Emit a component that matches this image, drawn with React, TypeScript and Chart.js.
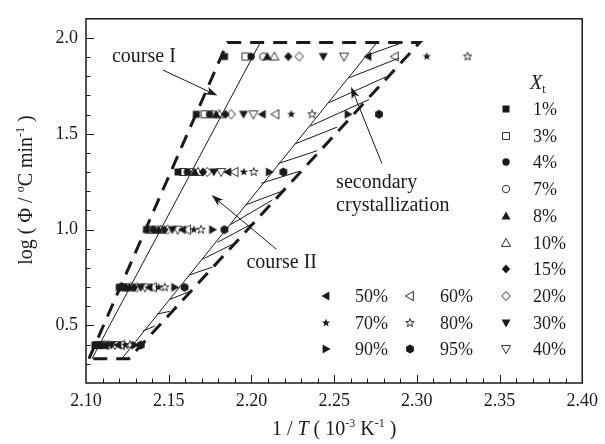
import React, { useEffect, useRef } from 'react';
import { Chart, registerables } from 'chart.js';

Chart.register(...registerables);

// ---- data ----
const ROW_LOG_PHI = [1.903, 1.602, 1.301, 1.0, 0.699, 0.398];

const XT_1 = [2.1837, 2.1667, 2.1556, 2.1366, 2.1201, 2.1054];
const XT_3 = [2.1964, 2.1717, 2.1586, 2.1387, 2.1219, 2.1068];
const XT_4 = [2.1998, 2.1747, 2.1613, 2.1407, 2.1234, 2.108];
const XT_7 = [2.2072, 2.1765, 2.1637, 2.1423, 2.1249, 2.1091];
const XT_8 = [2.2096, 2.1787, 2.1657, 2.1438, 2.1261, 2.1101];
const XT_10 = [2.2139, 2.1807, 2.1677, 2.1452, 2.1273, 2.111];
const XT_15 = [2.2223, 2.1843, 2.1707, 2.1474, 2.1291, 2.1123];
const XT_20 = [2.2289, 2.1878, 2.1733, 2.1493, 2.1307, 2.1136];
const XT_30 = [2.2434, 2.1952, 2.1773, 2.1522, 2.1331, 2.1154];
const XT_40 = [2.256, 2.2012, 2.1817, 2.1554, 2.1357, 2.1175];
const XT_50 = [2.2705, 2.2066, 2.1857, 2.1583, 2.1381, 2.1193];
const XT_60 = [2.2867, 2.2145, 2.1898, 2.1611, 2.1405, 2.1211];
const XT_70 = [2.306, 2.2241, 2.1954, 2.1652, 2.1439, 2.1237];
const XT_80 = [2.3307, 2.2367, 2.2014, 2.1695, 2.1476, 2.1265];
const XT_90 = [null, 2.2584, 2.2108, 2.1765, 2.1536, 2.1295];
const XT_95 = [null, 2.2771, 2.2193, 2.1837, 2.1596, 2.1331];

const SERIES_LABELS = ['1%', '3%', '4%', '7%', '8%', '10%', '15%', '20%', '30%', '40%', '50%', '60%', '70%', '80%', '90%', '95%'];
const SERIES_X = [XT_1, XT_3, XT_4, XT_7, XT_8, XT_10, XT_15, XT_20, XT_30, XT_40, XT_50, XT_60, XT_70, XT_80, XT_90, XT_95];

const X_TICKS = [2.1, 2.15, 2.2, 2.25, 2.3, 2.35, 2.4];
const Y_TICKS = [0.5, 1.0, 1.5, 2.0];

// boundary lines (course I / course II)
const DASH_X = [2.1018, 2.1855, 2.3018, 2.1259, 2.1018];
const DASH_Y = [0.327, 1.977, 1.977, 0.327, 0.327];
const THIN1_X = [2.1036, 2.2054];
const THIN1_Y = [0.327, 1.977];
const THIN2_X = [2.1217, 2.2759];
const THIN2_Y = [0.327, 1.977];

// hatch lines (secondary crystallization)
const HATCH_X0 = [2.2699, 2.259, 2.247, 2.2355, 2.2265, 2.2163, 2.206, 2.1964, 2.1873, 2.1795, 2.1705, 2.1627, 2.1506, 2.1428, 2.1343];
const HATCH_Y0 = [1.91, 1.792, 1.663, 1.54, 1.448, 1.345, 1.242, 1.129, 1.026, 0.934, 0.846, 0.764, 0.636, 0.559, 0.471];
const HATCH_X1 = [2.2916, 2.2892, 2.2813, 2.2711, 2.2518, 2.2398, 2.2289, 2.2187, 2.2127, 2.2018, 2.191, 2.1765, 2.1627, 2.1506, 2.1416];
const HATCH_Y1 = [1.977, 1.895, 1.797, 1.679, 1.535, 1.412, 1.304, 1.201, 1.155, 1.037, 0.934, 0.805, 0.677, 0.574, 0.497];

// ---- styles ----
const INK = '#1a1a1a';
const FONT = '"Liberation Serif", "Times New Roman", Times, serif';
const MARKERS: [string, boolean][] = [
  ['square', true], ['square', false], ['circle', true], ['circle', false],
  ['up', true], ['up', false], ['diamond', true], ['diamond', false],
  ['down', true], ['down', false], ['left', true], ['left', false],
  ['star', true], ['star', false], ['right', true], ['hex', true],
];

function shapePath(ctx: CanvasRenderingContext2D, kind: string, cx: number, cy: number) {
  ctx.beginPath();
  const poly = (pts: number[][]) => {
    ctx.moveTo(cx + pts[0][0], cy + pts[0][1]);
    for (let i = 1; i < pts.length; i++) ctx.lineTo(cx + pts[i][0], cy + pts[i][1]);
    ctx.closePath();
  };
  switch (kind) {
    case 'square': ctx.rect(cx - 3.5, cy - 3.5, 7, 7); break;
    case 'circle': ctx.arc(cx, cy, 3.7, 0, Math.PI * 2); break;
    case 'up': poly([[0, -4.6], [4.5, 3.4], [-4.5, 3.4]]); break;
    case 'down': poly([[0, 4.6], [4.5, -3.4], [-4.5, -3.4]]); break;
    case 'left': poly([[-4.6, 0], [3.4, -4.6], [3.4, 4.6]]); break;
    case 'right': poly([[4.6, 0], [-3.4, -4.6], [-3.4, 4.6]]); break;
    case 'diamond': poly([[0, -4.6], [4.2, 0], [0, 4.6], [-4.2, 0]]); break;
    case 'star': {
      const pts: number[][] = [];
      for (let i = 0; i < 10; i++) {
        const r = i % 2 === 0 ? 4.4 : 1.8;
        const a = -Math.PI / 2 + (i * Math.PI) / 5;
        pts.push([r * Math.cos(a), r * Math.sin(a)]);
      }
      poly(pts);
      break;
    }
    case 'hex': {
      const pts: number[][] = [];
      for (let i = 0; i < 6; i++) {
        const a = -Math.PI / 2 + (i * Math.PI) / 3;
        pts.push([4.5 * Math.cos(a), 4.5 * Math.sin(a)]);
      }
      poly(pts);
      break;
    }
  }
}

function makeMarker(kind: string, filled: boolean): HTMLCanvasElement {
  const c = document.createElement('canvas');
  c.width = 14;
  c.height = 14;
  const ctx = c.getContext('2d')!;
  shapePath(ctx, kind, 7, 7);
  if (filled) {
    ctx.fillStyle = INK;
    ctx.fill();
  } else {
    ctx.strokeStyle = INK;
    ctx.lineWidth = 0.9;
    ctx.stroke();
  }
  return c;
}

type Part = { t: string; it?: boolean; sup?: boolean; sub?: boolean };

function drawRich(ctx: CanvasRenderingContext2D, parts: Part[], x: number, y: number, size: number, align: 'left' | 'center') {
  const fontOf = (p: Part) => `${p.it ? 'italic ' : ''}${p.sup || p.sub ? Math.round(size * 0.62) : size}px ${FONT}`;
  let w = 0;
  for (const p of parts) { ctx.font = fontOf(p); w += ctx.measureText(p.t).width; }
  let cx = align === 'center' ? x - w / 2 : x;
  ctx.textAlign = 'left';
  ctx.textBaseline = 'alphabetic';
  for (const p of parts) {
    ctx.font = fontOf(p);
    const dy = p.sup ? -size * 0.42 : p.sub ? size * 0.22 : 0;
    ctx.fillText(p.t, cx, y + dy);
    cx += ctx.measureText(p.t).width;
  }
}

function arrow(ctx: CanvasRenderingContext2D, x0: number, y0: number, x1: number, y1: number) {
  const ang = Math.atan2(y1 - y0, x1 - x0);
  const L = 12, W = 4;
  const bx = x1 - L * Math.cos(ang), by = y1 - L * Math.sin(ang);
  ctx.beginPath();
  ctx.moveTo(x0, y0);
  ctx.lineTo(bx + 3 * Math.cos(ang), by + 3 * Math.sin(ang));
  ctx.lineWidth = 1;
  ctx.stroke();
  ctx.beginPath();
  ctx.moveTo(x1, y1);
  ctx.lineTo(bx - W * Math.sin(ang), by + W * Math.cos(ang));
  ctx.lineTo(bx + 3 * Math.cos(ang), by + 3 * Math.sin(ang));
  ctx.lineTo(bx + W * Math.sin(ang), by - W * Math.cos(ang));
  ctx.closePath();
  ctx.fill();
}

export default function App() {
  const ref = useRef<HTMLCanvasElement | null>(null);

  useEffect(() => {
    if (!ref.current) return;
    const markerImgs = MARKERS.map(([k, f]) => makeMarker(k, f));

    const pointSets = SERIES_X.map((xs, i) => ({
      type: 'scatter' as const,
      label: SERIES_LABELS[i],
      data: xs
        .map((x, r) => (x == null ? null : { x, y: ROW_LOG_PHI[r] }))
        .filter((p) => p !== null),
      pointStyle: markerImgs[i],
      pointRadius: 4,
      showLine: false,
    }));

    const lineSet = (xs: number[], ys: number[], dashed: boolean) => ({
      type: 'scatter' as const,
      data: xs.map((x, i) => ({ x, y: ys[i] })),
      showLine: true,
      pointRadius: 0,
      borderColor: INK,
      borderWidth: dashed ? 3 : 1,
      borderDash: dashed ? [14, 9] : [],
      borderCapStyle: 'butt' as const,
      tension: 0,
      fill: false,
    });

    const hatchSets = HATCH_X0.map((x0, i) =>
      lineSet([x0, HATCH_X1[i]], [HATCH_Y0[i], HATCH_Y1[i]], false)
    );

    const decor = {
      id: 'decor',
      afterDatasetsDraw(chart: any) {
        const { ctx, chartArea: a } = chart;
        const xs = chart.scales.x, ys = chart.scales.y;
        const X = (v: number) => xs.getPixelForValue(v);
        const Y = (v: number) => ys.getPixelForValue(v);
        ctx.save();
        ctx.strokeStyle = INK;
        ctx.fillStyle = INK;

        // frame
        ctx.lineWidth = 1.5;
        ctx.strokeRect(a.left, a.top, a.right - a.left, a.bottom - a.top);

        // inward ticks
        ctx.lineWidth = 1;
        ctx.beginPath();
        for (let i = 1; i < 30; i++) {
          const px = Math.round(X(2.1 + i * 0.01)) + 0.5;
          const len = i % 5 === 0 ? 8 : 4.5;
          ctx.moveTo(px, a.bottom);
          ctx.lineTo(px, a.bottom - len);
        }
        for (let j = 3; j <= 20; j++) {
          const py = Math.round(Y(j * 0.1)) + 0.5;
          const len = j % 5 === 0 ? 8 : 4.5;
          ctx.moveTo(a.left, py);
          ctx.lineTo(a.left + len, py);
        }
        ctx.stroke();

        // annotations
        arrow(ctx, X(2.1464), Y(1.833), X(2.1795), Y(1.6994));
        arrow(ctx, X(2.2151), Y(0.8977), X(2.1759), Y(1.1804));
        arrow(ctx, X(2.2789), Y(1.3448), X(2.2602), Y(1.7456));
        drawRich(ctx, [{ t: 'course I' }], X(2.1157), Y(1.8741), 20, 'left');
        drawRich(ctx, [{ t: 'course II' }], X(2.197), Y(0.8), 20, 'left');
        drawRich(ctx, [{ t: 'secondary' }], X(2.2512), Y(1.2163), 20, 'left');
        drawRich(ctx, [{ t: 'crystallization' }], X(2.2512), Y(1.0981), 20, 'left');

        // legend (right column)
        drawRich(ctx, [{ t: 'X', it: true }, { t: 't', sub: true }], 530, 89, 20, 'left');
        for (let i = 0; i < 10; i++) {
          const yy = 109 + i * 26.7;
          ctx.drawImage(markerImgs[i], 506 - 7, Math.round(yy) - 7);
          drawRich(ctx, [{ t: SERIES_LABELS[i] }], 533, Math.round(yy) + 6, 18, 'left');
        }
        // legend (bottom two columns)
        for (let k = 0; k < 6; k++) {
          const i = 10 + k;
          const col = k % 2, row = Math.floor(k / 2);
          const yy = Math.round(296 + row * 26.7);
          const mx = col === 0 ? 326 : 410;
          const tx = col === 0 ? 355 : 440;
          ctx.drawImage(markerImgs[i], mx - 7, yy - 7);
          drawRich(ctx, [{ t: SERIES_LABELS[i] }], tx, yy + 6, 18, 'left');
        }

        // axis titles
        drawRich(ctx, [
          { t: '1 / ' }, { t: 'T', it: true }, { t: ' ( 10' }, { t: '-3', sup: true },
          { t: ' K' }, { t: '-1', sup: true }, { t: ' )' },
        ], (a.left + a.right) / 2, 435, 20, 'center');
        ctx.save();
        ctx.translate(32, 190);
        ctx.rotate(-Math.PI / 2);
        drawRich(ctx, [
          { t: 'log ( \u03A6 / ' }, { t: 'o', sup: true }, { t: 'C min' }, { t: '-1', sup: true }, { t: ' )' },
        ], 0, 0, 20, 'center');
        ctx.restore();

        ctx.restore();
      },
    };

    const chart = new Chart(ref.current, {
      type: 'scatter',
      data: {
        datasets: [
          ...pointSets,
          lineSet(DASH_X, DASH_Y, true),
          lineSet(THIN1_X, THIN1_Y, false),
          lineSet(THIN2_X, THIN2_Y, false),
          ...hatchSets,
        ] as any,
      },
      options: {
        animation: false,
        responsive: false,
        devicePixelRatio: 1,
        layout: { padding: { left: 0, right: 21, top: 13, bottom: 0 } },
        plugins: { legend: { display: false }, tooltip: { enabled: false } },
        events: [],
        scales: {
          x: {
            type: 'linear',
            min: 2.1,
            max: 2.4,
            grid: { display: false, drawTicks: false },
            border: { display: false },
            afterBuildTicks: (s: any) => { s.ticks = X_TICKS.map((v) => ({ value: v })); },
            afterFit: (s: any) => { s.height = 61; },
            ticks: {
              autoSkip: false,
              maxRotation: 0,
              padding: 7,
              color: INK,
              font: { family: FONT, size: 18 },
              callback: (v: any) => Number(v).toFixed(2),
            },
          },
          y: {
            type: 'linear',
            min: 0.2,
            max: 2.1,
            grid: { display: false, drawTicks: false },
            border: { display: false },
            afterBuildTicks: (s: any) => { s.ticks = Y_TICKS.map((v) => ({ value: v })); },
            afterFit: (s: any) => { s.width = 86; },
            ticks: {
              padding: 8,
              color: INK,
              font: { family: FONT, size: 18 },
              callback: (v: any) => Number(v).toFixed(1),
            },
          },
        },
      },
      plugins: [decor],
    } as any);

    return () => chart.destroy();
  }, []);

  return (
    <div style={{ position: 'fixed', left: 0, top: 0, width: 605, height: 444, background: '#fff' }}>
      <canvas ref={ref} width={605} height={444} style={{ width: 605, height: 444, display: 'block' }} />
    </div>
  );
}
